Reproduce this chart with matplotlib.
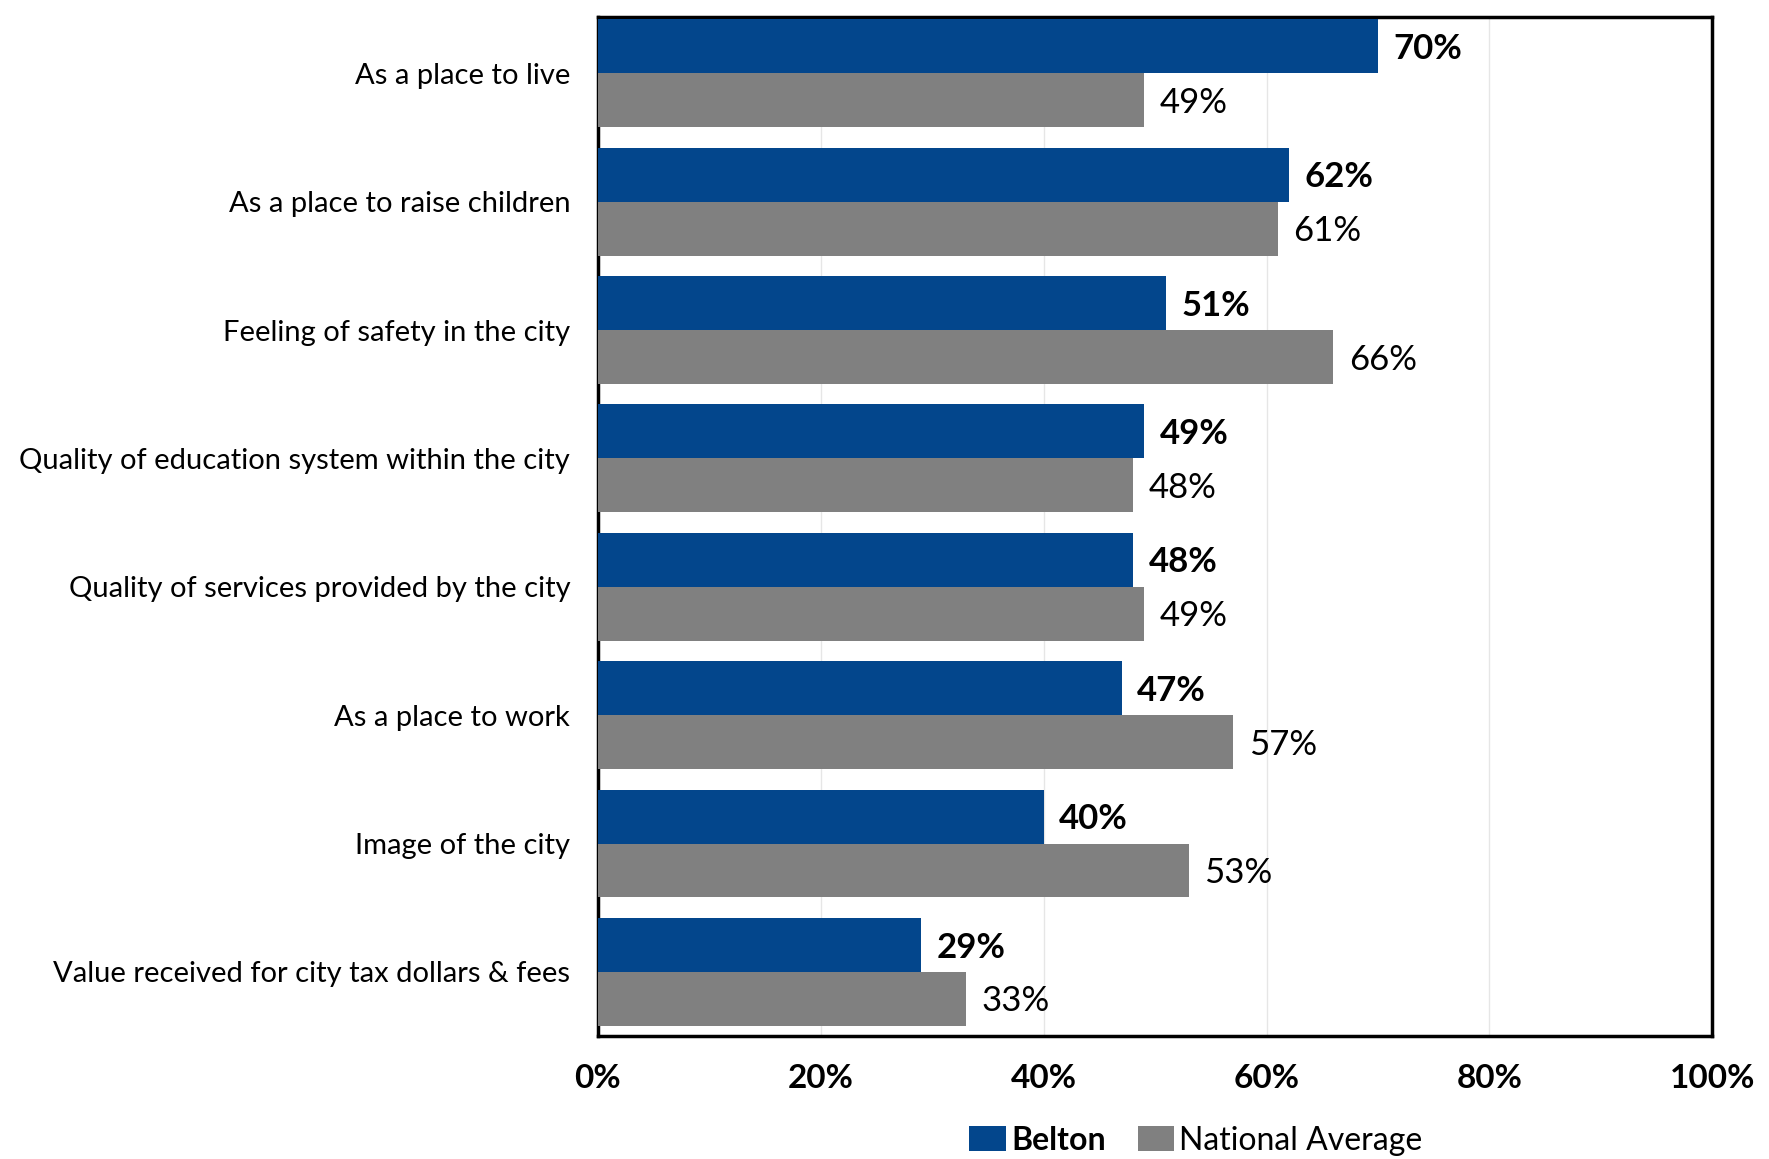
import numpy as np
import matplotlib.pyplot as plt
from matplotlib.ticker import FuncFormatter

plt.rcParams['font.family'] = ['Lato', 'DejaVu Sans']

categories = ['As a place to live', 'As a place to raise children',
              'Feeling of safety in the city',
              'Quality of education system within the city',
              'Quality of services provided by the city',
              'As a place to work', 'Image of the city',
              'Value received for city tax dollars & fees']
belton = [70, 62, 51, 49, 48, 47, 40, 29]
national = [49, 61, 66, 48, 49, 57, 53, 33]
ticks = [0, 20, 40, 60, 80, 100]

blue = '#03468C'
grey = '#808080'

fig = plt.figure(figsize=(17.69, 11.59), dpi=100)
ax = fig.add_axes([0.338, 0.106, 0.630, 0.879])

y = np.arange(len(categories))
h = 0.42
ax.barh(y - h/2, belton, height=h, color=blue, label='Belton', zorder=3)
ax.barh(y + h/2, national, height=h, color=grey, label='National Average',
        zorder=3)

for yi, b, n in zip(y, belton, national):
    ax.text(b + 1.4, yi - h/2 + 0.02, f'{b}%', va='center', ha='left',
            fontsize=25, fontweight='bold')
    ax.text(n + 1.4, yi + h/2 + 0.02, f'{n}%', va='center', ha='left',
            fontsize=25)

ax.set_xlim(0, 100)
ax.set_ylim(len(categories) - 0.5, -0.435)
ax.set_yticks(y)
ax.set_yticklabels(categories, fontsize=21)
ax.set_xticks(ticks)
ax.xaxis.set_major_formatter(FuncFormatter(lambda v, p: f'{v:.0f}%'))
for lab in ax.get_xticklabels():
    lab.set_fontweight('bold')
    lab.set_fontsize(24)
ax.tick_params(axis='both', length=0)
ax.tick_params(axis='x', pad=20)
ax.tick_params(axis='y', pad=20)
ax.grid(axis='x', color='#e6e6e6', linewidth=1, zorder=0)
for s in ax.spines.values():
    s.set_linewidth(2.5)
    s.set_color('black')

leg = fig.legend(loc='lower center', bbox_to_anchor=(0.676, -0.022), ncol=2,
                 frameon=False, fontsize=23, handlelength=1.15,
                 handleheight=0.85, handletextpad=0.15, columnspacing=1.0)
leg.get_texts()[0].set_fontweight('bold')

fig.savefig('out.png', dpi=100)
